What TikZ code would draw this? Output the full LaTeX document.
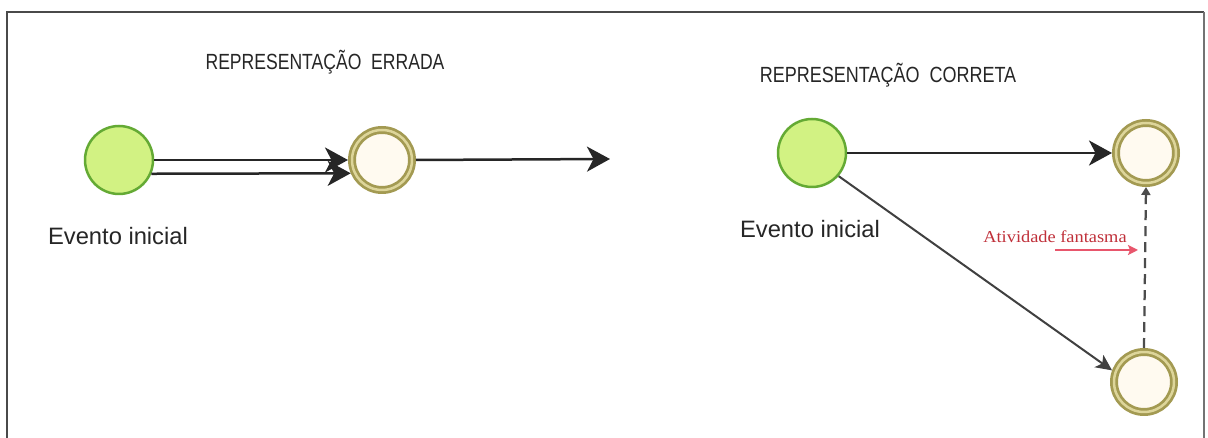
\documentclass[tikz,border=0pt]{standalone}
\usepackage{fontspec}
\setmainfont{Liberation Sans}
\newfontfamily\serifface{Liberation Serif}
\usetikzlibrary{arrows.meta}

\definecolor{startfill}{HTML}{D2F283}
\definecolor{startline}{HTML}{64AA34}
\definecolor{endline}{HTML}{A39A52}
\definecolor{endcore}{HTML}{DDD59A}
\definecolor{endfill}{HTML}{FFFAF0}
\definecolor{frameline}{HTML}{4A4A4A}
\definecolor{ghostred}{HTML}{C0303A}
\definecolor{ghostarrow}{HTML}{E8566C}

\tikzset{
  startevent/.style={circle, draw=startline, fill=startfill,
    line width=0.05cm, minimum size=1.36cm, inner sep=0pt},
  endevent/.style={circle, draw=endline, double=endcore, double distance=0.05cm,
    line width=0.055cm, fill=endfill, minimum size=1.2cm, inner sep=0pt,
    outer sep=0.08cm},
  flow/.style={line width=0.05cm, draw=black!85,
    -{Stealth[length=0.46cm, width=0.5cm, inset=0.13cm]}},
  thinflow/.style={line width=0.04cm, draw=black!75,
    -{Stealth[length=0.32cm, width=0.3cm, inset=0.08cm]}},
  dummyflow/.style={line width=0.045cm, draw=black!70, dash pattern=on 0.2cm off 0.12cm,
    -{Triangle[length=0.16cm, width=0.18cm]}},
  heading/.style={font=\fontsize{12.5}{14}\selectfont, text=black!85},
  caption/.style={font=\fontsize{13.5}{16}\selectfont, text=black!85},
}

\begin{document}
\begin{tikzpicture}[x=0.02cm, y=-0.02cm]
  \useasboundingbox (0,0) rectangle (1208,438);
  \fill[white] (0,0) rectangle (1208,438);

  % frame
  \draw[frameline, line width=0.05cm] (7,438) -- (7,12) -- (1204,12);
  \draw[black!55, line width=0.03cm] (1204,12) -- (1204,438);

  % headings
  \node[heading] (tleft) at (325,62) {\scalebox{0.8}[1]{REPRESENTAÇÃO\ \ ERRADA}};
  \node[heading] (tright) at (888,75) {\scalebox{0.82}[1]{REPRESENTAÇÃO\ \ CORRETA}};

  % wrong representation
  \node[startevent] (s1) at (119,160) {};
  \node[endevent] (e1) at (382,160) {};
  \coordinate (f1) at (610,159);
  \node[caption] (l1) at (118,236) {Evento inicial};

  \draw[flow] (s1.east) -- (e1.west);
  \draw[flow] (s1.-23.6) -- (e1.203.6);
  \draw[flow] (e1.east) -- (f1);

  % correct representation
  \node[startevent] (s2) at (812,153) {};
  \node[endevent] (e2) at (1146,153) {};
  \node[endevent] (e3) at (1144,382) {};
  \node[caption] (l2) at (810,229) {Evento inicial};

  \draw[flow] (s2.east) -- (e2.west);
  \draw[thinflow] (s2.-41) -- (e3.160);
  \draw[dummyflow] (e3.north) -- (e2.south);

  % dummy activity note
  \node[text=ghostred, font=\serifface\fontsize{9.5}{11}\selectfont] (note) at (1055,237)
    {\scalebox{1.1}[1]{Atividade fantasma}};
  \coordinate (na) at (1055,250);
  \coordinate (nb) at (1138,250);
  \draw[ghostarrow, line width=0.04cm, -{Stealth[length=0.2cm, width=0.2cm, inset=0.04cm]}] (na) -- (nb);
\end{tikzpicture}
\end{document}
